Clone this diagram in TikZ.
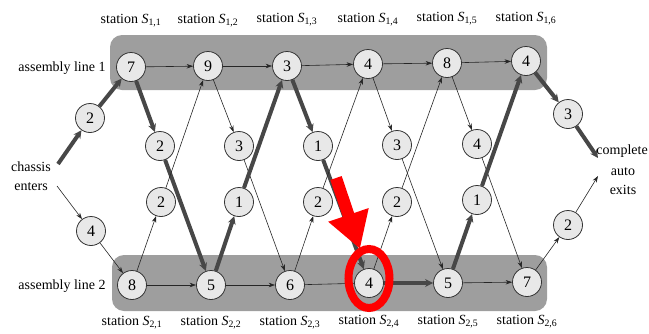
\documentclass[tikz,border=0pt]{standalone}
\usepackage{fontspec}
\setmainfont{Liberation Serif}
\usetikzlibrary{arrows.meta,shapes.geometric}
\begin{document}
\begin{tikzpicture}[x=1pt,y=-1pt,
  st/.style={circle, draw=black!80, line width=0.8pt, fill=black!9, minimum size=29pt, inner sep=0pt, font=\fontsize{16}{16}\selectfont},
  lbl/.style={font=\fontsize{14}{19}\selectfont, inner sep=0pt},
  band/.style={fill=black!38, rounded corners=12pt},
  te/.style={draw=black!85, line width=0.6pt, -{Stealth[length=6.5pt,width=4.5pt]}},
  tk/.style={draw=black!72, line width=4pt, -{Stealth[length=8pt,width=8pt]}},
]
\useasboundingbox (0,0) rectangle (649,333);
% bands
\fill[band] (110,35) rectangle (547,90);
\fill[band] (112,255) rectangle (547,311);
% stations line 1
\node[st] (a1) at (131,67) {7};
\node[st] (a2) at (208,66) {9};
\node[st] (a3) at (287,66) {3};
\node[st] (a4) at (368,64) {4};
\node[st] (a5) at (447,63) {8};
\node[st] (a6) at (526,61) {4};
% stations line 2
\node[st] (b1) at (132,285) {8};
\node[st] (b2) at (211,285) {5};
\node[st] (b3) at (290,285) {6};
\node[st] (b4) at (369,283) {4};
\node[st] (b5) at (448,283) {5};
\node[st] (b6) at (527,282) {7};
% transfers from line 1
\node[st] (u1) at (160,146) {2};
\node[st] (u2) at (239,146) {3};
\node[st] (u3) at (318,146) {1};
\node[st] (u4) at (397,145) {3};
\node[st] (u5) at (477,144) {4};
% transfers from line 2
\node[st] (d1) at (161,202) {2};
\node[st] (d2) at (239,202) {1};
\node[st] (d3) at (318,202) {2};
\node[st] (d4) at (397,202) {2};
\node[st] (d5) at (477,200) {1};
% entry / exit
\node[st] (e1) at (90,118) {2};
\node[st] (e2) at (91,231) {4};
\node[st] (x1) at (568,114) {3};
\node[st] (x2) at (568,225) {2};
% labels
\node[lbl] (la1) at (131,21) {station \textit{S}\textsubscript{1,1}};
\node[lbl] (la2) at (208,21) {station \textit{S}\textsubscript{1,2}};
\node[lbl] (la3) at (287,20) {station \textit{S}\textsubscript{1,3}};
\node[lbl] (la4) at (368,20) {station \textit{S}\textsubscript{1,4}};
\node[lbl] (la5) at (447,19) {station \textit{S}\textsubscript{1,5}};
\node[lbl] (la6) at (526,19) {station \textit{S}\textsubscript{1,6}};
\node[lbl] (lb1) at (132,323) {station \textit{S}\textsubscript{2,1}};
\node[lbl] (lb2) at (211,323) {station \textit{S}\textsubscript{2,2}};
\node[lbl] (lb3) at (290,323) {station \textit{S}\textsubscript{2,3}};
\node[lbl] (lb4) at (369,322) {station \textit{S}\textsubscript{2,4}};
\node[lbl] (lb5) at (448,322) {station \textit{S}\textsubscript{2,5}};
\node[lbl] (lb6) at (527,322) {station \textit{S}\textsubscript{2,6}};
\node[lbl] (al1) at (62,68) {assembly line 1};
\node[lbl] (al2) at (62,286) {assembly line 2};
\node[lbl, align=center] (ch) at (31,176) {chassis\\enters};
\node[lbl, anchor=east] (cp) at (648,151) {complete};
\node[lbl] (au) at (623,172) {auto};
\node[lbl] (ex) at (623,190) {exits};
\coordinate (c1) at (58,164);
\coordinate (c2) at (57,186);
\coordinate (o1) at (598,158);
\coordinate (o2) at (598,176);
% line 1 edges
\draw[te] (a1) -- (a2);
\draw[te] (a2) -- (a3);
\draw[te] (a3) -- (a4);
\draw[te] (a4) -- (a5);
\draw[te] (a5) -- (a6);
% line 2 edges
\draw[te] (b1) -- (b2);
\draw[te] (b2) -- (b3);
\draw[te] (b3) -- (b4);
\draw[tk] (b4) -- (b5);
\draw[te] (b5) -- (b6);
% transfers
\draw[tk] (a1) -- (u1); \draw[tk] (u1) -- (b2);
\draw[te] (b1) -- (d1); \draw[te] (d1) -- (a2);
\draw[te] (a2) -- (u2); \draw[te] (u2) -- (b3);
\draw[tk] (b2) -- (d2); \draw[tk] (d2) -- (a3);
\draw[tk] (a3) -- (u3); \draw[tk] (u3) -- (b4);
\draw[te] (b3) -- (d3); \draw[te] (d3) -- (a4);
\draw[te] (a4) -- (u4); \draw[te] (u4) -- (b5);
\draw[te] (b4) -- (d4); \draw[te] (d4) -- (a5);
\draw[te] (a5) -- (u5); \draw[te] (u5) -- (b6);
\draw[tk] (b5) -- (d5); \draw[tk] (d5) -- (a6);
% entry / exit
\draw[tk] (c1) -- (e1); \draw[tk] (e1) -- (a1);
\draw[te] (c2) -- (e2); \draw[te] (e2) -- (b1);
\draw[tk] (a6) -- (x1); \draw[tk] (x1) -- (o1);
\draw[te] (b6) -- (x2); \draw[te] (x2) -- (o2);
% red annotation
\coordinate (r1) at (336,178);
\coordinate (r2) at (360,249);
\draw[red, line width=12pt, -{Triangle[length=36pt,width=40pt]}] (r1) -- (r2);
\node[draw=red, line width=8pt, ellipse, minimum width=41pt, minimum height=59pt, inner sep=0pt] (hl) at (369,278.5) {};
\end{tikzpicture}
\end{document}
